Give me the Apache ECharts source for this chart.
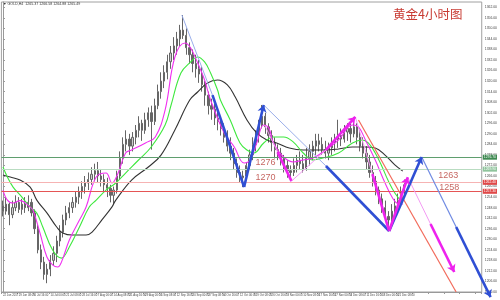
<!DOCTYPE html>
<html><head><meta charset="utf-8">
<script src="https://cdn.jsdelivr.net/npm/echarts@6/dist/echarts.min.js"></script>
<style>html,body{margin:0;padding:0;background:#fff}#c{width:500px;height:300px}</style>
</head><body><div id="c"></div>
<script>
// OHLC: [open, close, low, high]
const candles = [
[1249,1246,1243,1252],[1246,1250,1244,1254],[1250,1244,1238,1251],[1244,1248,1242,1252],[1248,1251,1246,1255],
[1251,1247,1245,1254],[1247,1250,1244,1253],[1250,1248,1245,1254],[1248,1251,1246,1255],[1251,1245,1243,1253],
[1245,1236,1233,1247],[1236,1224,1222,1238],[1224,1217,1213,1227],[1217,1210,1207,1220],[1210,1213,1205,1216],
[1213,1218,1209,1221],[1218,1222,1215,1226],[1222,1229,1217,1232],[1229,1234,1226,1238],[1234,1241,1231,1244],
[1241,1245,1238,1249],[1245,1248,1242,1251],[1248,1251,1245,1254],[1251,1254,1248,1257],[1254,1257,1250,1260],
[1257,1260,1253,1263],[1260,1262,1256,1266],[1262,1264,1258,1268],[1264,1267,1261,1271],[1267,1269,1263,1273],
[1269,1266,1262,1274],[1266,1264,1260,1270],[1264,1261,1257,1267],[1261,1259,1254,1265],[1259,1255,1251,1261],
[1255,1258,1250,1260],[1258,1266,1256,1269],[1266,1276,1264,1280],[1276,1284,1273,1288],[1284,1287,1280,1292],
[1287,1283,1278,1290],[1283,1288,1280,1291],[1288,1292,1284,1295],[1292,1296,1288,1300],[1296,1292,1286,1298],
[1292,1298,1290,1302],[1298,1302,1294,1305],[1302,1297,1281,1306],[1297,1306,1295,1310],[1306,1314,1304,1318],
[1314,1320,1310,1325],[1320,1325,1316,1329],[1325,1331,1321,1335],[1331,1336,1327,1340],[1336,1340,1332,1345],
[1340,1344,1335,1348],[1344,1349,1340,1352],[1349,1346,1344,1357.6],[1346,1339,1335,1350],[1339,1335,1330,1342],
[1335,1330,1325,1338],[1330,1327,1322,1335],[1327,1324,1319,1332],[1324,1318,1314,1328],[1318,1312,1306,1320],
[1312,1306,1301,1314],[1306,1304,1298,1310],[1304,1299,1295,1307],[1299,1297,1292,1303],[1297,1293,1289,1300],
[1293,1288,1285,1296],[1288,1283,1280,1292],[1283,1279,1275,1288],[1279,1273,1270,1282],[1273,1268,1265,1276],
[1268,1265,1262,1272],[1265,1266,1259.7,1269],[1266,1272,1264,1274],[1272,1278,1270,1281],[1278,1284,1275,1288],
[1284,1289,1280,1292],[1289,1295,1285,1298],[1295,1300,1293,1306.4],[1300,1294,1290,1302],[1294,1289,1285,1296],
[1289,1285,1280,1292],[1285,1281,1276,1288],[1281,1279,1275,1284],[1279,1276,1272,1282],[1276,1272,1268,1278],
[1272,1269,1265,1275],[1269,1268,1263.7,1272],[1268,1272,1266,1276],[1272,1275,1268,1278],[1275,1273,1270,1280],
[1273,1270,1268,1278],[1270,1276,1269,1282],[1276,1280,1272,1284],[1280,1283,1275,1286],[1283,1286,1278,1290],
[1286,1284,1280,1290],[1284,1281,1278,1288],[1281,1279,1276,1286],[1279,1282,1275,1285],[1282,1285,1278,1288],
[1285,1287,1280,1290],[1287,1289,1282,1298],[1289,1287,1283,1293],[1287,1291,1285,1295],[1291,1293,1286,1296],
[1293,1290,1285,1297],[1290,1294,1288,1299.6],[1294,1288,1284,1296],[1288,1283,1280,1292],[1283,1279,1276,1288],
[1279,1274,1270,1283],[1274,1268,1265,1278],[1268,1263,1260,1272],[1263,1258,1255,1266],[1258,1253,1250,1260],
[1253,1248,1245,1256],[1248,1243,1240,1252],[1243,1241,1234.7,1246],[1241,1246,1238,1250],[1246,1249,1242,1253],
[1249,1252,1245,1256],[1252,1257,1250,1260],[1257,1261,1255,1264]
];
// moving averages: [bar index, price]
const maFast = [[0,1258],[1.4,1252.3],[3.2,1250.6],[5.4,1252],[8.6,1248.4],[9.5,1246.6],[11.7,1233.6],[13.9,1219.9],[15.7,1215.4],[17.3,1214.2],[18.5,1217],[21,1229.6],[24.2,1240.9],[26.3,1248.4],[29.5,1265.4],[32.6,1267.7],[34.5,1262],[36.5,1268],[38.8,1279.1],[40.7,1280.8],[45.1,1284.8],[48.2,1288.2],[51.3,1303.5],[54.4,1333.7],[57.6,1341.7],[59.4,1338.8],[61.6,1330.3],[63.8,1320.6],[65.7,1309.2],[70,1290.5],[73.2,1282.5],[76.3,1273.4],[78.2,1275.1],[80.3,1284.8],[82.5,1295],[84.1,1293.3],[85.6,1284.8],[88.8,1276.8],[91.9,1274],[95,1275.1],[98.1,1276.2],[102.2,1280.8],[106.2,1286.5],[110.6,1295],[112.5,1293.9],[114.7,1286.5],[117.8,1275.1],[120.9,1262],[123.1,1254],[124.7,1250.5],[126.5,1250]];
const maMid = [[0,1271.1],[1.4,1265.4],[3.2,1259.7],[5.4,1255.2],[8.6,1248.4],[10.7,1244.9],[12.6,1237],[15.7,1223.9],[18.5,1219.3],[21,1225.6],[24.2,1237],[27.3,1248.4],[29.5,1252.3],[32.6,1258],[35.7,1262],[38.8,1267.7],[42.9,1275.1],[46.9,1282.5],[51.3,1295],[53.2,1306.4],[56.3,1324.6],[59.4,1330.9],[61.6,1333.7],[63.8,1330.9],[65.7,1324.6],[67.9,1314.9],[68.8,1309.2],[71.9,1297.9],[75,1284.8],[77.2,1280.8],[79.4,1279.1],[82.5,1284.8],[85.6,1288.2],[88.8,1288.2],[91.9,1285.3],[95,1279.1],[98.1,1275.1],[101.2,1276.2],[106.2,1279.1],[110.6,1284.8],[113.7,1286.5],[115.6,1284.8],[117.8,1279.1],[120,1271.1],[121.8,1263.7],[124,1256.3],[126.2,1251.2]];
const maSlow = [[0,1266.6],[2.3,1265.4],[5.4,1263.7],[8.6,1259.7],[10.7,1252.3],[13.9,1245],[17,1237],[18.9,1233.6],[22,1232.4],[26.3,1232.4],[28.2,1234.1],[31.3,1241],[34.5,1248.4],[35.7,1252.3],[40.7,1263.7],[46,1271.1],[50,1277.9],[54.4,1292.2],[59.1,1309.2],[61.6,1313.8],[64.7,1318.9],[67.9,1320.6],[71,1317.8],[73.5,1310.9],[77.2,1297.9],[80.3,1290.5],[83.5,1286.5],[86.6,1284.8],[90.6,1281.9],[95,1280.8],[99,1280.8],[102.2,1280.8],[106.2,1281.4],[110.6,1282.5],[114.7,1282.5],[117.8,1281.9],[120.9,1277.9],[124,1272.3],[126.5,1268.8]];
// support / resistance levels
const levels = [1276.7, 1269.9, 1262.4, 1257.3];
const levelColors = ['#5f9e6e', '#b9dcc1', '#f6b3b3', '#e55555'];
const levelBoxColors = ['#3f8a52', '#8fc49c', '#e04848', '#e04848'];
const levelTexts = [['1276',83.1,1273.4],['1270',83.1,1265.4],['1263',140.9,1266],['1258',141.2,1259.7]];
// trend lines: [from, to, colorKey, width]
const trendLines = [
 [[56.6,1357.6],[66.3,1312],'blueL',1],[[66.3,1312],[76.3,1259.7],'blue',2.6],
 [[82.5,1306.4],[102.2,1271.7],'blueL',1],[[102.2,1271.7],[122.2,1234.7],'blue',2.6],
 [[132.5,1276.8],[143.4,1237],'blueM',1.2],
 [[82.8,1295],[86.9,1279.6],'magL',1],[[86.9,1279.6],[91.3,1263.1],'mag',2.6],
 [[91.3,1263.1],[102.2,1280.8],'magL',1],
 [[111.5,1299.6],[116.9,1267.1],'magL',1],[[116.9,1267.1],[122.2,1234.7],'mag',2.6],
 [[128.1,1265.3],[135.3,1238.7],'magL',1],
 [[112.5,1297.9],[143.4,1200],'red',1.2]
];
const arrowLines = [
 [[76.3,1259.7],[82.5,1306.4],'blue',2.6],[[122.2,1234.7],[132.5,1276.8],'blue',2.6],
 [[143.4,1237],[154.3,1197.1],'blue',2.6],[[102.2,1280.8],[111.5,1299.6],'mag',2.6],
 [[122.2,1234.7],[128.1,1265.3],'mag',2.6],[[135.3,1238.7],[142.8,1211.4],'mag',2.6]
];
const tickLabels = ['22 Jun 2017','29 Jun 08:00','6 Jul 16:00','14 Jul 00:00','21 Jul 08:00','28 Jul 16:00','7 Aug 00:00','14 Aug 08:00','21 Aug 16:00','29 Aug 00:00','5 Sep 08:00','12 Sep 16:00','20 Sep 00:00','27 Sep 08:00','4 Oct 16:00','12 Oct 00:00','19 Oct 08:00','26 Oct 16:00','3 Nov 00:00','10 Nov 08:00','17 Nov 16:00','27 Nov 00:00','4 Dec 08:00','11 Dec 16:00','18 Dec 00:00','21 Dec 08:00'];

const colors = {blue:'#2f4fd4', blueL:'#9aaeea', blueM:'#6f8ae2', mag:'#ee22ee', magL:'#f39af3', red:'#f26b5b'};
const N = 152;
const cats = Array.from({length:N}, (_, i) => String(i));
const chart = echarts.init(document.getElementById('c'));
const toLines = arr => arr.map(t => ({coords:[t[0], t[1]], lineStyle:{color:colors[t[2]], width:t[3], opacity:1}}));

chart.setOption({
  animation:false,
  textStyle:{fontFamily:'Liberation Sans'},
  title:{text:'黄金4小时图', left:393, top:8, padding:0,
    textStyle:{fontSize:12.5, color:'#c83a32', fontWeight:'normal', fontFamily:'Noto Sans CJK SC'}},
  graphic:[{type:'text', left:3, top:2, style:{text:'▼ GOLD,H4  1265.37 1266.58 1264.88 1265.49', fontSize:3.6, fill:'#333', fontFamily:'Liberation Sans'}}],
  grid:{left:1, right:12, top:2, bottom:8, show:true, borderColor:'#a0a0a0', borderWidth:1},
  xAxis:[
    {type:'category', data:cats, boundaryGap:true,
      axisLine:{lineStyle:{color:'#999'}},
      axisTick:{show:true, interval:4, length:2, lineStyle:{color:'#999'}},
      axisLabel:{interval:4, fontSize:2.8, color:'#444', align:'left', margin:2,
        formatter:(v, idx) => tickLabels[idx / 5] || ''},
      splitLine:{show:false}},
    {type:'value', min:-0.5, max:N - 0.5, show:false}
  ],
  yAxis:{type:'value', position:'right', min:1200, max:1365, interval:6, scale:true,
    axisLine:{show:true, lineStyle:{color:'#999'}},
    axisTick:{show:true, length:2, lineStyle:{color:'#999'}},
    axisLabel:{fontSize:3.4, color:'#444', margin:3, showMaxLabel:false, formatter:v => v.toFixed(2)},
    splitLine:{show:false}},
  series:[
    {type:'candlestick', xAxisIndex:0, data:candles, barWidth:'55%',
      itemStyle:{color:'#cfcfcf', color0:'#666', borderColor:'#666', borderColor0:'#666', borderWidth:1}},
    {type:'line', xAxisIndex:1, data:maSlow, smooth:0.4, symbol:'none', lineStyle:{color:'#333', width:1.1}, z:3},
    {type:'line', xAxisIndex:1, data:maMid, smooth:0.4, symbol:'none', lineStyle:{color:'#3ee83e', width:1.1}, z:3},
    {type:'line', xAxisIndex:1, data:maFast, smooth:0.4, symbol:'none', lineStyle:{color:'#f030f0', width:1.1}, z:3},
    {type:'line', xAxisIndex:1, data:[], z:4,
      markLine:{silent:true, symbol:['none','none'], animation:false,
        data: levels.map((v, k) => ({yAxis:v, lineStyle:{color:levelColors[k], width:1, type:'solid'},
          label:{show:true, position:'end', distance:1, formatter:v.toFixed(2), fontSize:3.4, color:'#fff',
            backgroundColor:levelBoxColors[k], padding:[1,1]}}))}},
    {type:'lines', coordinateSystem:'cartesian2d', xAxisIndex:1, yAxisIndex:0, clip:false, z:5,
      symbol:['none','none'], lineStyle:{opacity:1}, data:toLines(trendLines)},
    {type:'lines', coordinateSystem:'cartesian2d', xAxisIndex:1, yAxisIndex:0, clip:false, z:5,
      symbol:['none','arrow'], symbolSize:7, lineStyle:{opacity:1}, data:toLines(arrowLines)},
    {type:'scatter', xAxisIndex:1, symbolSize:0, z:6,
      data: levelTexts.map(t => ({name:t[0], value:[t[1], t[2]]})),
      label:{show:true, position:'inside', formatter:'{b}', fontSize:9, color:'#b8403a', fontFamily:'Liberation Sans'}}
  ]
});
</script></body></html>
